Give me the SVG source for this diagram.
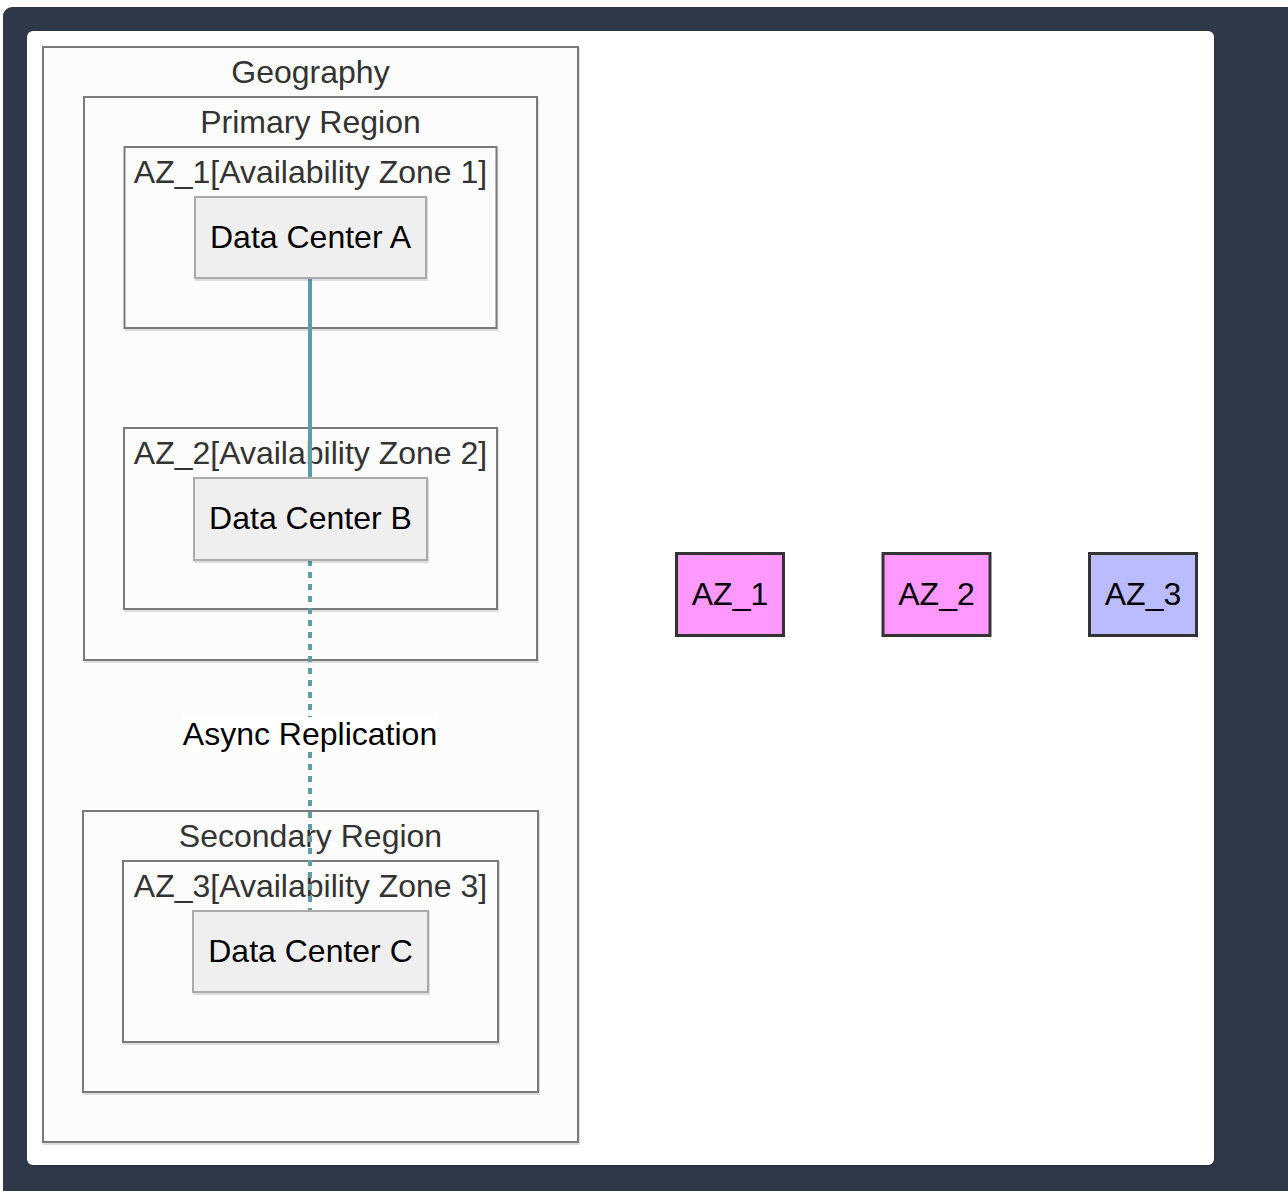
<svg xmlns="http://www.w3.org/2000/svg" width="1288" height="1191" viewBox="0 0 1288 1191">
  <defs>
    <filter id="shadow" x="-5%" y="-5%" width="110%" height="115%">
      <feDropShadow dx="1" dy="2" stdDeviation="0.6" flood-color="#000" flood-opacity="0.12"/>
    </filter>
  </defs>
  <style>
    .cluster { fill: #fcfcfc; stroke: #7a7a7a; stroke-width: 2; filter: url(#shadow); }
    .clabel { font-family: "Liberation Sans", Arial, sans-serif; font-size: 32px; fill: #333333; text-anchor: middle; }
    .dc { fill: #efefef; stroke: #aaaaaa; stroke-width: 2; filter: url(#shadow); }
    .nlabel { font-family: "Liberation Sans", Arial, sans-serif; font-size: 32px; fill: #000000; text-anchor: middle; }
    .az { stroke: #333333; stroke-width: 3; }
    .edge { fill: none; stroke: #5b9fae; stroke-width: 4; }
    .dotted { stroke-dasharray: 6 6; }
  </style>

  <!-- frame -->
  <rect x="3" y="7" width="1295" height="1194" rx="9" fill="#2f3848"/>
  <rect x="27" y="31" width="1187" height="1134" rx="6" fill="#ffffff" filter="url(#shadow)"/>

  <!-- clusters -->
  <g id="Geography">
    <rect class="cluster" x="43" y="47" width="535" height="1095"/>
    <text class="clabel" x="310.5" y="83">Geography</text>
  </g>
  <g id="PrimaryRegion">
    <rect class="cluster" x="84" y="97" width="453" height="563"/>
    <text class="clabel" x="310.5" y="132.5">Primary Region</text>
  </g>
  <g id="AZ_1_cluster">
    <rect class="cluster" x="124.5" y="147" width="372" height="181"/>
    <text class="clabel" x="310.5" y="182.5">AZ_1[Availability Zone 1]</text>
  </g>
  <g id="AZ_2_cluster">
    <rect class="cluster" x="124" y="428" width="373" height="181"/>
    <text class="clabel" x="310.5" y="463.5">AZ_2[Availability Zone 2]</text>
  </g>
  <g id="SecondaryRegion">
    <rect class="cluster" x="83" y="811" width="455" height="281"/>
    <text class="clabel" x="310.5" y="846.5">Secondary Region</text>
  </g>
  <g id="AZ_3_cluster">
    <rect class="cluster" x="123" y="861" width="375" height="181"/>
    <text class="clabel" x="310.5" y="896.5">AZ_3[Availability Zone 3]</text>
  </g>

  <!-- connectors -->
  <g id="edges">
    <path class="edge" d="M310,278 L310,478"/>
    <path class="edge dotted" d="M310,560 L310,911"/>
    <rect x="183" y="717" width="254" height="35" fill="#ffffff"/>
    <text class="nlabel" x="310" y="745">Async Replication</text>
  </g>

  <!-- data centers -->
  <g id="DC_A">
    <rect class="dc" x="195" y="197" width="231" height="81"/>
    <text class="nlabel" x="310.5" y="248">Data Center A</text>
  </g>
  <g id="DC_B">
    <rect class="dc" x="194" y="478" width="233" height="82"/>
    <text class="nlabel" x="310.5" y="529">Data Center B</text>
  </g>
  <g id="DC_C">
    <rect class="dc" x="193" y="911" width="235" height="81"/>
    <text class="nlabel" x="310.5" y="962">Data Center C</text>
  </g>

  <!-- zone nodes -->
  <g id="AZ_1">
    <rect class="az" x="676.5" y="553.5" width="107" height="82" fill="#ff99ff"/>
    <text class="nlabel" x="730" y="605">AZ_1</text>
  </g>
  <g id="AZ_2">
    <rect class="az" x="883" y="553.5" width="107" height="82" fill="#ff99ff"/>
    <text class="nlabel" x="936.5" y="605">AZ_2</text>
  </g>
  <g id="AZ_3">
    <rect class="az" x="1089.5" y="553.5" width="107" height="82" fill="#bbbbff"/>
    <text class="nlabel" x="1143" y="605">AZ_3</text>
  </g>
</svg>
